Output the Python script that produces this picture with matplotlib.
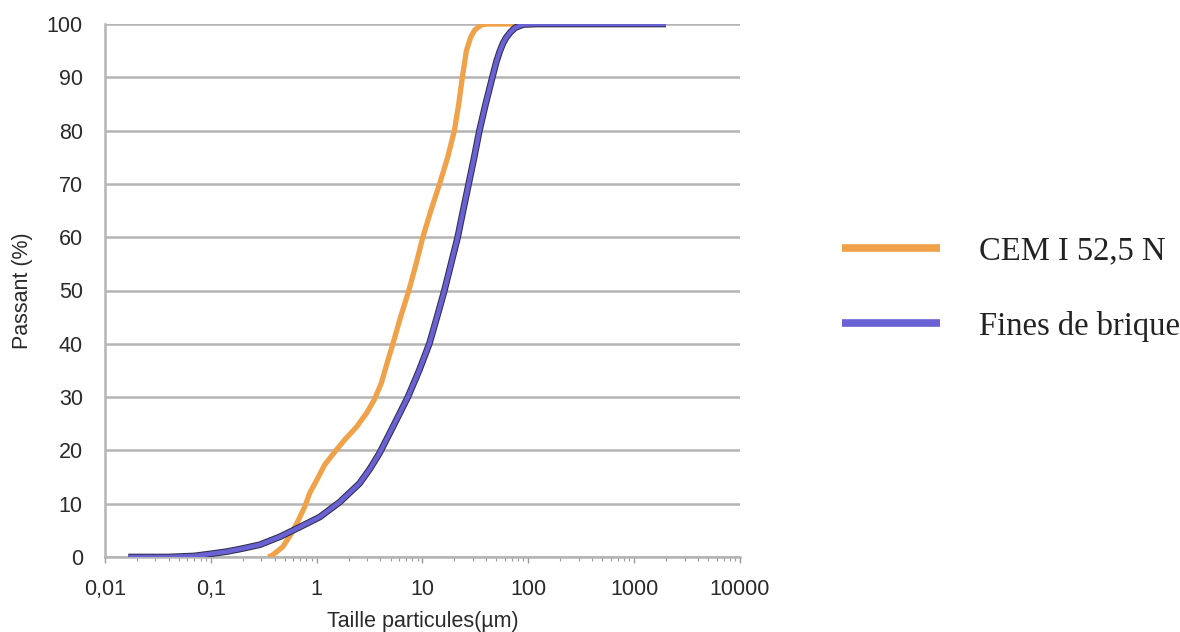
import numpy as np
import matplotlib
matplotlib.use("Agg")
import matplotlib.pyplot as plt
import matplotlib.patheffects as pe
from matplotlib.ticker import FixedLocator, LogLocator, NullFormatter

# Courbes granulométriques
cem_size = [0.35, 0.385, 0.478, 0.58, 0.66, 0.77, 0.86, 1.0, 1.19, 1.48,
            1.84, 2.38, 2.96, 3.5, 4.08, 4.6, 5.25, 6.2, 7.43, 8.7, 10.07,
            12.0, 14.5, 17.3, 20.0, 22.0, 23.8, 26.0, 28.5, 31.0, 34.0, 37.0,
            42.0, 100.0]
cem_pass = [0.0, 0.4, 1.9, 4.5, 6.6, 9.4, 12.0, 14.4, 17.3, 19.7,
            22.0, 24.4, 27.0, 29.5, 32.6, 36.2, 40.0, 45.0, 50.0, 55.0, 60.0,
            65.0, 70.0, 75.0, 80.0, 85.0, 90.0, 95.0, 97.5, 98.8, 99.5, 99.9,
            100.0, 100.0]

brique_size = [0.0166, 0.04, 0.07, 0.1, 0.14, 0.19, 0.29, 0.45, 0.69, 1.07,
               1.65, 2.54, 3.2, 3.93, 5.25, 7.27, 9.3, 11.6, 13.7, 16.1, 18.6,
               21.5, 24.2, 27.3, 30.8, 34.5, 39.5, 45.7, 50.0, 54.0, 58.0, 62.0,
               68.0, 75.0, 90.0, 120.0, 500.0, 2000.0]
brique_pass = [0.0, 0.0, 0.2, 0.6, 1.0, 1.5, 2.3, 3.8, 5.6, 7.5,
               10.3, 13.8, 16.6, 19.5, 24.4, 30.0, 35.0, 40.0, 45.0, 50.0, 55.0,
               60.0, 65.0, 70.0, 75.0, 80.0, 85.0, 90.0, 93.0, 95.0, 96.5, 97.5,
               98.5, 99.3, 99.9, 100.0, 100.0, 100.0]

x_ticks = [0.01, 0.1, 1, 10, 100, 1000, 10000]
x_labels = ["0,01", "0,1", "1", "10", "100", "1000", "10000"]
y_ticks = list(range(0, 101, 10))

orange = "#F0A24A"
blue = "#6A62D4"
text_col = "#2A2A2A"
grid_col = "#B4B4B4"

plt.rcParams["font.family"] = ["Liberation Sans", "DejaVu Sans"]

fig = plt.figure(figsize=(11.8, 6.32), dpi=100)
ax = fig.add_axes([105 / 1180, 75 / 632, 635 / 1180, 533 / 632])

ax.plot(cem_size, cem_pass, color=orange, lw=3.8, solid_capstyle="butt",
        solid_joinstyle="round", label="CEM I 52,5 N", zorder=3)
ax.plot(brique_size, brique_pass, color=blue, lw=3.3, solid_capstyle="butt",
        solid_joinstyle="round", label="Fines de brique", zorder=4,
        path_effects=[pe.Stroke(linewidth=4.8, foreground="#2E2E4A"), pe.Normal()])

ax.set_xscale("log")
ax.set_xlim(0.01, 10000)
ax.set_ylim(0, 100)
ax.xaxis.set_major_locator(FixedLocator(x_ticks))
ax.set_xticklabels(x_labels)
ax.xaxis.set_minor_locator(LogLocator(base=10, subs=np.arange(2, 10)))
ax.xaxis.set_minor_formatter(NullFormatter())
ax.set_yticks(y_ticks)

ax.grid(axis="y", color=grid_col, lw=1.8)
ax.set_axisbelow(True)
for s in ["top", "right"]:
    ax.spines[s].set_visible(False)
for s in ["left", "bottom"]:
    ax.spines[s].set_color(grid_col)
    ax.spines[s].set_linewidth(1.8)

ax.tick_params(axis="y", length=0, pad=16, labelsize=15.5, labelcolor=text_col)
ax.tick_params(axis="x", which="major", length=4, width=1, color="#999999",
               pad=12, labelsize=15.5, labelcolor=text_col)
ax.tick_params(axis="x", which="minor", length=3, width=0.8, color="#999999")

ax.set_xlabel("Taille particules(µm)", fontsize=15.5, color=text_col, labelpad=8)
ax.set_ylabel("Passant (%)", fontsize=15.5, color=text_col, labelpad=10)

leg = fig.legend(loc="center left", bbox_to_anchor=(813 / 1180, 1 - 289 / 632),
                 frameon=False, handlelength=3.0, handletextpad=1.2,
                 labelspacing=1.35,
                 prop={"family": ["Liberation Serif", "DejaVu Serif"], "size": 23.5})
for line in leg.get_lines():
    line.set_linewidth(5.5)
    line.set_path_effects([])
for t in leg.get_texts():
    t.set_color("#222222")

fig.savefig("out.png", dpi=100)
